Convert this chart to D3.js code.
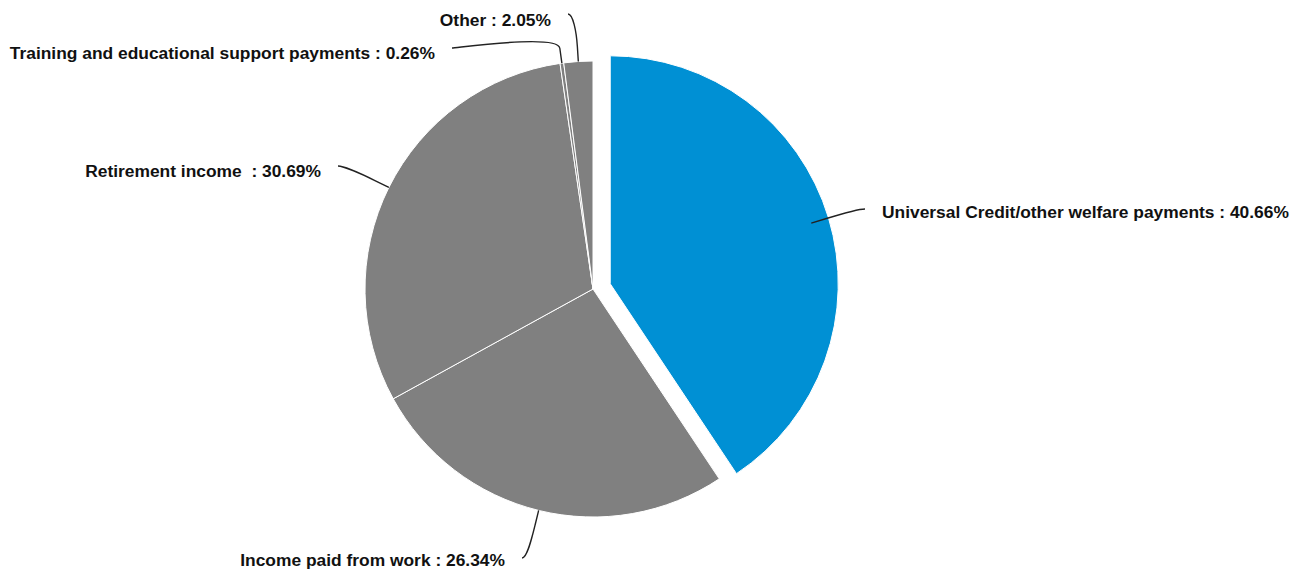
<!DOCTYPE html>
<html>
<head>
<meta charset="utf-8">
<script src="https://cdn.jsdelivr.net/npm/d3@7"></script>
<style>
  html, body { margin: 0; padding: 0; background: #fff; }
  svg { display: block; }
  text { font-family: "Liberation Sans", Arial, sans-serif; font-weight: bold; font-size: 17.4px; fill: #111; white-space: pre; }
</style>
</head>
<body>
<svg id="chart" width="1303" height="571"></svg>
<script>
// Income sources, share of respondents (%)
const categories = [
  "Universal Credit/other welfare payments",
  "Income paid from work",
  "Retirement income ",
  "Training and educational support payments",
  "Other"
];
const shares = [40.66, 26.34, 30.69, 0.26, 2.05];
const sliceColors = ["#0090d4", "#808080", "#808080", "#808080", "#808080"];
const explodedSlices = [true, false, false, false, false];

// Label placement (connector end relative to pie centre, text baseline offset)
const labelLayout = [
  { dx: 272, dy: -80, base: 9 },
  { dx: -71, dy: 269, base: 8 },
  { dx: -255, dy: -123, base: 11 },
  { dx: -141, dy: -241, base: 11 },
  { dx: -25, dy: -275, base: 12 }
];

const W = 1303, H = 571;
const cx = 593, cy = 289, R = 228;
const explode = 18, breakOffset = 15, textGap = 17;

const svg = d3.select("#chart");
const g = svg.append("g").attr("transform", `translate(${cx},${cy})`);

const data = categories.map((c, i) => ({ name: c, value: shares[i], color: sliceColors[i], exploded: explodedSlices[i], layout: labelLayout[i] }));

const pie = d3.pie().sort(null).value(d => d.value).startAngle(0).endAngle(2 * Math.PI);
const arc = d3.arc().innerRadius(0).outerRadius(R);
const arcs = pie(data);

const polar = (a, r) => [Math.sin(a) * r, -Math.cos(a) * r];
const midAngle = d => (d.startAngle + d.endAngle) / 2;

// Slices
g.selectAll("path.slice")
  .data(arcs)
  .join("path")
  .attr("class", "slice")
  .attr("d", arc)
  .attr("fill", d => d.data.color)
  .attr("stroke", "#fff")
  .attr("stroke-width", 1)
  .attr("stroke-linejoin", "round")
  .attr("transform", d => {
    if (!d.data.exploded) return null;
    const [ox, oy] = polar(midAngle(d), explode);
    return `translate(${ox},${oy})`;
  });

// Connectors (soft curve from the label to a break point, then straight to the rim)
g.selectAll("path.connector")
  .data(arcs)
  .join("path")
  .attr("class", "connector")
  .attr("fill", "none")
  .attr("stroke", "#222")
  .attr("stroke-width", 1.4)
  .attr("d", d => {
    const a = midAngle(d);
    const T = polar(a, R);
    const B = polar(a, R + breakOffset);
    const L = [d.data.layout.dx, d.data.layout.dy];
    const rightSide = a < Math.PI;
    const p = d3.path();
    p.moveTo(L[0], L[1]);
    p.bezierCurveTo(L[0] + (rightSide ? -5 : 5), L[1], 2 * B[0] - T[0], 2 * B[1] - T[1], B[0], B[1]);
    p.lineTo(T[0], T[1]);
    return p.toString();
  });

// Labels
g.selectAll("text.label")
  .data(arcs)
  .join("text")
  .attr("class", "label")
  .attr("text-anchor", d => (midAngle(d) < Math.PI ? "start" : "end"))
  .attr("x", d => d.data.layout.dx + (midAngle(d) < Math.PI ? textGap : -textGap))
  .attr("y", d => d.data.layout.dy + d.data.layout.base)
  .text(d => `${d.data.name} : ${d.data.value.toFixed(2)}%`);
</script>
</body>
</html>
